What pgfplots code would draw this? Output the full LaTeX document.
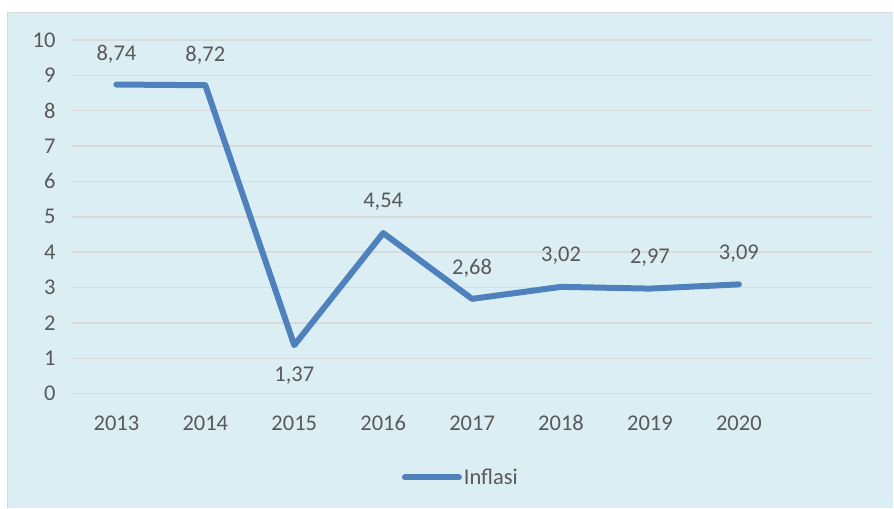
\documentclass[border=0pt]{standalone}
\usepackage{pgfplots}
\pgfplotsset{compat=1.18}
\usepackage{pgfplotstable}
\usepackage{fontspec}
\setmainfont{Carlito}
\definecolor{bgblue}{HTML}{DBEEF4}
\definecolor{gridgray}{HTML}{D9D9D9}
\definecolor{txtgray}{HTML}{595959}
\definecolor{lineblue}{HTML}{4F81BD}
\pgfplotstableread{
x y dy
0 8.74 30
1 8.72 30
2 1.37 -30
3 4.54 31
4 2.68 31
5 3.02 31
6 2.97 31
7 3.09 31
}\datatable
\begin{document}
\begin{tikzpicture}[x=1pt,y=1pt]
\fill[white] (0,0) rectangle (894,508);
\fill[bgblue] (7,0) rectangle (894,496);
\draw[gridgray, line width=1.5pt] (7.75,0) -- (7.75,495.25) -- (894,495.25);
\begin{axis}[
  at={(72pt,114pt)}, anchor=south west,
  scale only axis, width=801pt, height=354pt,
  xmin=-0.5, xmax=8.5, ymin=0, ymax=10,
  xtick={0,...,7},
  xticklabels={2013,2014,2015,2016,2017,2018,2019,2020},
  ytick={0,...,10},
  ymajorgrids, grid style={gridgray, line width=1.5pt},
  axis line style={draw=none},
  major tick style={draw=none},
  font=\fontsize{22.5}{27}\selectfont,
  tick label style={text=txtgray},
  /pgf/number format/assume math mode=true,
  yticklabel style={xshift=-13pt},
  xticklabel style={anchor=center, text height=11pt, text depth=0pt, yshift=-31pt},
  legend style={at={(0.486,-0.237)}, anchor=center, draw=none, fill=none,
    font=\fontsize{22.5}{27}\selectfont, text=txtgray,
    legend cell align=left, inner sep=0pt},
  legend image code/.code={\draw[#1, line cap=round] (0pt,0pt) -- (54pt,0pt);},
  legend style={/tikz/every even column/.append style={column sep=0pt}},
  clip=false,
]
\addplot[lineblue, line width=6pt, line join=round, line cap=round,
  nodes near coords,
  point meta=y,
  visualization depends on={\thisrow{dy} \as \dy},
  every node near coord/.append style={anchor=center, yshift=\dy pt, text=txtgray,
    font=\fontsize{22.5}{27}\selectfont,
    /pgf/number format/.cd, fixed, fixed zerofill, precision=2, use comma, assume math mode=true},
] table[x=x, y=y] {\datatable};
\addlegendentry{Inflasi}
\end{axis}
\end{tikzpicture}
\end{document}
